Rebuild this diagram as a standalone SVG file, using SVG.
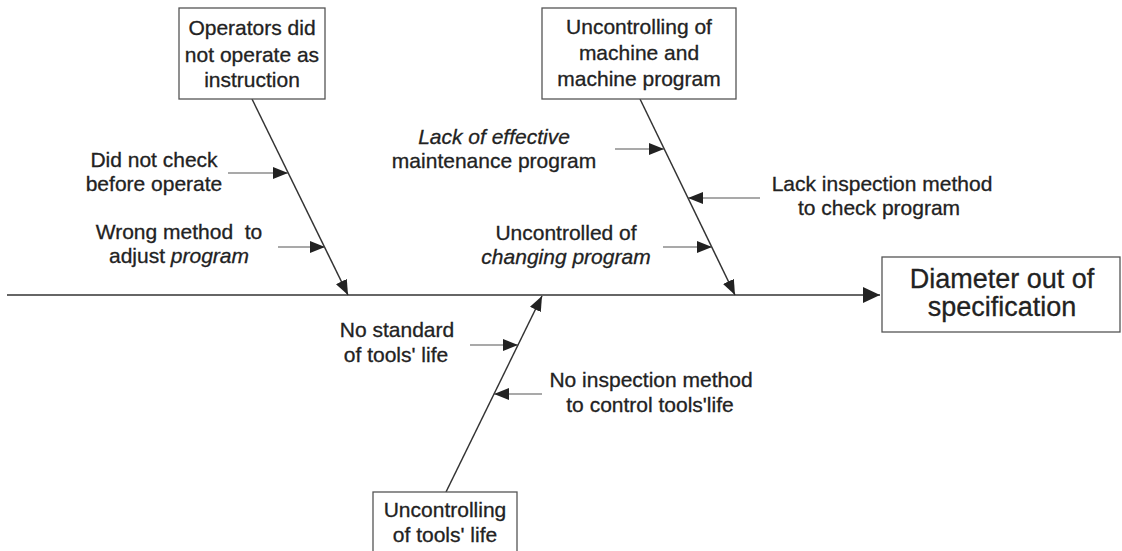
<svg xmlns="http://www.w3.org/2000/svg" width="1122" height="551" viewBox="0 0 1122 551">
  <style>
    .box { fill: #fff; stroke: #555; stroke-width: 1.3; }
    .bone { stroke: #333; stroke-width: 1.5; fill: none; }
    .sub { stroke: #555; stroke-width: 1.1; fill: none; }
    text { font-family: "Liberation Sans", Arial, sans-serif; font-size: 21px; fill: #222; stroke: #222; stroke-width: 0.3; text-anchor: middle; }
    .big { font-size: 27px; }
    .it { font-style: italic; }
  </style>
  <defs>
    <marker id="head" markerUnits="userSpaceOnUse" markerWidth="16" markerHeight="12" refX="15" refY="6" orient="auto">
      <path d="M0,0 L15,6 L0,12 z" fill="#222"/>
    </marker>
    <marker id="headBig" markerUnits="userSpaceOnUse" markerWidth="18" markerHeight="16" refX="17" refY="8" orient="auto">
      <path d="M0,0 L17,8 L0,16 z" fill="#222"/>
    </marker>
  </defs>
  <rect width="1122" height="551" fill="#fff"/>

  <!-- spine, bones and cause arrows -->
  <g id="connectors">
    <line class="bone" x1="7" y1="295" x2="880" y2="295" marker-end="url(#headBig)"/>
    <line class="bone" x1="252" y1="99" x2="348" y2="295" marker-end="url(#head)"/>
    <line class="bone" x1="640" y1="99" x2="735" y2="295" marker-end="url(#head)"/>
    <line class="bone" x1="446" y1="492" x2="542" y2="296" marker-end="url(#head)"/>
    <line class="sub" x1="228" y1="173" x2="288" y2="173" marker-end="url(#head)"/>
    <line class="sub" x1="278" y1="247" x2="325" y2="247" marker-end="url(#head)"/>
    <line class="sub" x1="615" y1="149" x2="664" y2="149" marker-end="url(#head)"/>
    <line class="sub" x1="760" y1="198" x2="688" y2="198" marker-end="url(#head)"/>
    <line class="sub" x1="663" y1="247" x2="712" y2="247" marker-end="url(#head)"/>
    <line class="sub" x1="470" y1="345" x2="518" y2="345" marker-end="url(#head)"/>
    <line class="sub" x1="542" y1="394" x2="494" y2="394" marker-end="url(#head)"/>
  </g>

  <g id="operators">
    <rect class="box" x="179" y="8" width="146" height="91"/>
    <text x="252" y="35">Operators did</text>
    <text x="252" y="62">not operate as</text>
    <text x="252" y="87">instruction</text>
  </g>

  <g id="machine">
    <rect class="box" x="542" y="8" width="194" height="91"/>
    <text x="639" y="34">Uncontrolling of</text>
    <text x="639" y="60">machine and</text>
    <text x="639" y="86">machine program</text>
  </g>

  <g id="tools">
    <rect class="box" x="373" y="492" width="144" height="70"/>
    <text x="445" y="517">Uncontrolling</text>
    <text x="445" y="542">of tools' life</text>
  </g>

  <g id="effect">
    <rect class="box" x="882" y="257" width="238" height="75"/>
    <text class="big" x="1002" y="288">Diameter out of</text>
    <text class="big" x="1002" y="316">specification</text>
  </g>

  <g id="cause-check">
    <text x="154" y="167">Did not check</text>
    <text x="154" y="191">before operate</text>
  </g>
  <g id="cause-adjust">
    <text x="179" y="239" xml:space="preserve">Wrong method  to</text>
    <text x="179" y="263">adjust <tspan class="it">program</tspan></text>
  </g>
  <g id="cause-maintenance">
    <text class="it" x="494" y="144">Lack of effective</text>
    <text x="494" y="168">maintenance program</text>
  </g>
  <g id="cause-inspection">
    <text x="882" y="191">Lack inspection method</text>
    <text x="879" y="215">to check program</text>
  </g>
  <g id="cause-changing">
    <text x="566" y="240">Uncontrolled of</text>
    <text class="it" x="566" y="264">changing program</text>
  </g>
  <g id="cause-standard">
    <text x="397" y="337">No standard</text>
    <text x="396" y="362">of tools' life</text>
  </g>
  <g id="cause-tool-inspection">
    <text x="651" y="387">No inspection method</text>
    <text x="650" y="412">to control tools'life</text>
  </g>
</svg>
